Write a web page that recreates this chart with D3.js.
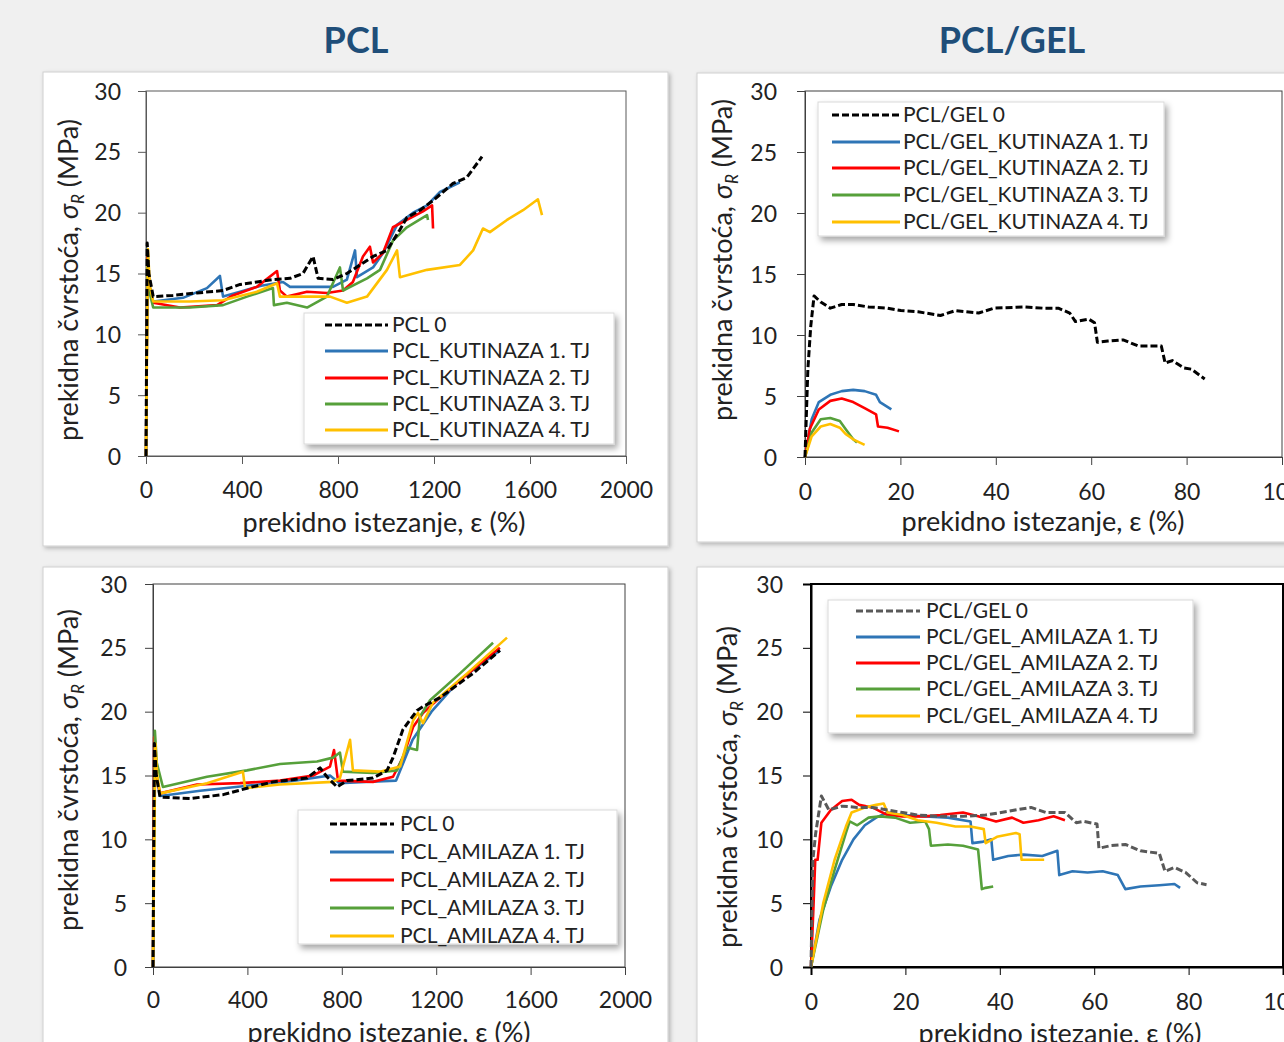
<!DOCTYPE html>
<html>
<head>
<meta charset="utf-8">
<script src="https://cdn.jsdelivr.net/npm/d3@7"></script>
<style>
  html, body { margin: 0; padding: 0; background: #f0f0f0; overflow: hidden; }
  svg { display: block; font-family: Lato, "Open Sans", sans-serif; }
</style>
</head>
<body>
<svg id="chart" width="1284" height="1042"></svg>
<script>
// series colours and legend names
var colors = ["#000000", "#2e75b6", "#ff0000", "#56a03a", "#ffc000"];
var namesKut = ["PCL 0", "PCL_KUTINAZA 1. TJ", "PCL_KUTINAZA 2. TJ", "PCL_KUTINAZA 3. TJ", "PCL_KUTINAZA 4. TJ"];
var namesAmi = ["PCL 0", "PCL_AMILAZA 1. TJ", "PCL_AMILAZA 2. TJ", "PCL_AMILAZA 3. TJ", "PCL_AMILAZA 4. TJ"];
var namesGelKut = ["PCL/GEL 0", "PCL/GEL_KUTINAZA 1. TJ", "PCL/GEL_KUTINAZA 2. TJ", "PCL/GEL_KUTINAZA 3. TJ", "PCL/GEL_KUTINAZA 4. TJ"];
var namesGelAmi = ["PCL/GEL 0", "PCL/GEL_AMILAZA 1. TJ", "PCL/GEL_AMILAZA 2. TJ", "PCL/GEL_AMILAZA 3. TJ", "PCL/GEL_AMILAZA 4. TJ"];

var ticksPcl = [0, 400, 800, 1200, 1600, 2000];
var ticksGel = [0, 20, 40, 60, 80, 100];
var ticksY = [0, 5, 10, 15, 20, 25, 30];

// PCL, kutinaza  [elongation %, strength MPa]
var pcl0 = [[0,0],[5,17.5],[12,15],[30,13.1],[112,13.2],[212,13.4],[321,13.6],[392,14.1],[462,14.3],[529,14.5],[600,14.6],[654,15.0],[696,16.4],[717,14.6],[779,14.5],[837,15.0],[946,16.4],[1004,16.9],[1058,18.6],[1087,19.6],[1142,20.2],[1196,21.0],[1279,22.4],[1337,22.9],[1400,24.6]];
var pclKut1 = [[0,0],[6,17],[14,14],[30,12.7],[154,13.0],[254,13.8],[308,14.8],[321,13.1],[392,13.5],[480,14.0],[571,14.3],[600,13.9],[725,13.9],[779,13.9],[837,14.5],[871,16.9],[879,14.7],[946,15.5],[988,16.7],[1046,19.0],[1113,20.0],[1171,20.6],[1225,21.7],[1308,22.5]];
var pclKut2 = [[0,0],[6,16.5],[14,14],[30,12.6],[142,12.2],[296,12.4],[362,13.2],[462,13.9],[546,15.2],[558,13.6],[587,13.1],[671,13.5],[754,13.4],[821,13.6],[862,14.3],[904,16.4],[933,17.2],[946,15.9],[988,16.7],[1029,18.8],[1087,19.4],[1154,20.1],[1192,20.6],[1196,18.7]];
var pclKut3 = [[0,0],[6,16],[14,13.5],[30,12.2],[183,12.2],[321,12.4],[421,13.1],[529,13.8],[533,12.4],[587,12.6],[671,12.2],[754,13.1],[808,15.5],[821,13.6],[921,14.6],[975,15.3],[1029,17.7],[1087,18.8],[1171,19.8],[1175,19.4]];
var pclKut4 = [[0,0],[8,17],[16,14],[30,12.7],[183,12.7],[321,12.8],[462,13.5],[546,14.2],[558,13.1],[671,13.1],[767,13.1],[837,12.6],[921,13.1],[1004,15.3],[1046,16.9],[1058,14.7],[1171,15.3],[1308,15.7],[1363,16.9],[1404,18.7],[1433,18.4],[1504,19.4],[1571,20.2],[1633,21.1],[1650,19.8]];

// PCL, amilaza
var pcl0b = [[0,0],[6,17.5],[14,15],[30,13.3],[157,13.2],[297,13.5],[398,14.0],[508,14.5],[653,14.8],[708,15.6],[737,14.9],[780,14.1],[822,14.6],[932,14.8],[992,15.4],[1017,16.4],[1059,18.6],[1119,20.1],[1144,20.4],[1216,21.1],[1356,23.0],[1470,24.8]];
var pclAmi1 = [[0,0],[6,17.5],[14,15],[30,13.4],[200,13.8],[400,14.2],[600,14.6],[750,15.0],[790,14.4],[900,14.5],[1030,14.6],[1100,17.8],[1180,20.0],[1300,22.5],[1470,24.8]];
var pclAmi2 = [[0,0],[5,18],[14,15],[30,13.6],[186,14.3],[369,14.4],[538,14.6],[678,15.0],[750,15.7],[767,17.0],[784,14.6],[932,14.5],[1017,14.9],[1059,16.4],[1102,18.8],[1144,19.9],[1216,21.1],[1356,23.3],[1470,25.0]];
var pclAmi3 = [[0,0],[8,18.5],[16,16],[42,14.1],[229,14.9],[398,15.4],[538,15.9],[695,16.1],[763,16.4],[792,16.8],[805,15.3],[932,15.2],[1034,15.4],[1076,17.2],[1119,17.0],[1131,19.6],[1174,20.9],[1301,23.0],[1441,25.4]];
var pclAmi4 = [[0,0],[10,17.5],[18,15],[30,13.6],[229,14.4],[381,15.3],[390,14.0],[538,14.3],[763,14.5],[792,14.8],[835,17.8],[847,15.4],[962,15.3],[1047,15.7],[1102,19.3],[1123,19.9],[1144,19.1],[1186,20.7],[1331,23.0],[1500,25.8]];

// PCL/GEL, kutinaza
var gel0 = [[0,0],[0.6,7.2],[1.2,10.7],[1.9,13.2],[3.3,12.7],[5.3,12.2],[7.7,12.5],[10.1,12.5],[13.3,12.3],[17.3,12.2],[20.1,12.0],[23.7,11.9],[28.4,11.6],[31.6,12.0],[36.4,11.8],[39.6,12.2],[45.9,12.3],[49.9,12.2],[53.1,12.2],[55.5,11.8],[56.7,11.1],[59.5,11.3],[60.7,11.0],[61.3,9.4],[63.5,9.5],[66.7,9.6],[69.9,9.1],[74.7,9.1],[75.5,7.7],[77.0,7.9],[79.4,7.3],[81.0,7.2],[83.8,6.4]];
var gelKut1 = [[0,0],[1.4,3.1],[2.9,4.5],[5.3,5.1],[7.7,5.4],[10.1,5.5],[12.5,5.4],[14.9,5.1],[15.7,4.5],[18.1,3.9]];
var gelKut2 = [[0,0],[1.0,2.3],[2.9,3.9],[5.3,4.6],[7.7,4.8],[10.1,4.5],[12.5,4.0],[14.9,3.5],[15.3,2.5],[17.3,2.4],[19.7,2.1]];
var gelKut3 = [[0,0],[1.4,2.0],[3.3,3.1],[5.3,3.2],[7.3,2.95],[8.5,2.3],[10.1,1.45],[10.9,1.2]];
var gelKut4 = [[0,0],[1.4,1.7],[3.3,2.5],[5.3,2.7],[7.3,2.4],[8.5,1.9],[10.1,1.45],[12.5,1.0]];

// PCL/GEL, amilaza
var gel0b = [[0,0],[0.4,8.4],[1.0,10.5],[2.2,13.4],[3.8,12.3],[6.6,12.6],[9.8,12.5],[13.0,12.5],[16.2,12.3],[19.4,12.1],[22.6,11.9],[27.4,11.8],[32.2,11.8],[37.0,11.9],[41.8,12.2],[46.6,12.5],[49.8,12.1],[53.8,12.1],[56.2,11.3],[57.8,11.4],[60.6,11.2],[61.0,9.3],[63.4,9.5],[66.6,9.6],[69.8,9.1],[73.8,8.9],[75.0,7.5],[77.0,7.8],[79.4,7.4],[81.8,6.6],[83.8,6.45]];
var gelAmi1 = [[0,0],[1.8,3.7],[4.2,6.3],[6.6,8.4],[9.0,10.0],[11.4,11.1],[13.8,11.7],[16.2,12.1],[19.4,11.9],[24.2,11.8],[29.0,11.7],[33.8,11.4],[34.2,9.7],[36.2,9.8],[38.2,10.0],[38.6,8.4],[41.8,8.7],[45.0,8.8],[49.0,8.7],[52.2,9.1],[52.6,7.2],[55.4,7.5],[58.6,7.4],[61.8,7.5],[65.0,7.2],[66.6,6.1],[69.8,6.3],[73.8,6.4],[77.0,6.5],[78.2,6.2]];
var gelAmi2 = [[0,0],[0.5,4.5],[0.9,8.4],[1.4,8.4],[2.2,11.3],[4.2,12.3],[6.6,13.0],[8.6,13.1],[10.2,12.7],[13.0,12.5],[16.2,11.9],[19.4,11.8],[24.2,11.8],[27.4,11.9],[32.2,12.1],[35.4,11.8],[39.2,11.4],[42.6,11.7],[45.0,11.3],[48.2,11.5],[51.4,11.8],[53.8,11.5]];
var gelAmi3 = [[0,0],[2.6,4.5],[5.0,7.6],[7.4,10.5],[8.2,11.4],[9.8,11.1],[12.2,11.7],[14.6,11.8],[17.8,11.7],[21.0,11.3],[24.2,11.4],[25.0,10.8],[25.4,9.5],[29.0,9.6],[32.2,9.5],[35.4,9.2],[36.2,6.1],[37.0,6.2],[38.6,6.3]];
var gelAmi4 = [[0,0],[2.6,5.0],[5.0,8.4],[7.4,11.0],[8.6,12.1],[11.4,12.5],[13.8,12.7],[15.4,12.8],[16.2,12.1],[19.4,11.9],[22.6,11.5],[26.6,11.3],[30.6,11.0],[33.8,11.0],[36.6,10.8],[37.0,9.7],[39.4,10.2],[43.4,10.5],[44.2,10.4],[44.6,8.4],[46.6,8.4],[49.4,8.4]];

var svg = d3.select("#chart");

// shadow filters
var defs = svg.append("defs");
defs.append("filter").attr("id", "boxShadow")
  .attr("x", "-5%").attr("y", "-5%").attr("width", "110%").attr("height", "110%")
  .append("feDropShadow").attr("dx", 2).attr("dy", 2).attr("stdDeviation", 2)
  .attr("flood-color", "#000").attr("flood-opacity", 0.25);
defs.append("filter").attr("id", "legShadow")
  .attr("x", "-10%").attr("y", "-10%").attr("width", "120%").attr("height", "130%")
  .append("feDropShadow").attr("dx", 3).attr("dy", 4).attr("stdDeviation", 3)
  .attr("flood-color", "#000").attr("flood-opacity", 0.35);

// titles
svg.append("text").attr("x", 356).attr("y", 53).attr("text-anchor", "middle")
  .attr("font-size", 36).attr("font-weight", "bold").attr("fill", "#1f4e79").text("PCL");
svg.append("text").attr("x", 1012).attr("y", 53).attr("text-anchor", "middle")
  .attr("font-size", 36).attr("font-weight", "bold").attr("fill", "#1f4e79").text("PCL/GEL");

var panels = [
  { box: [43, 72, 625, 474], xr: [146, 626], yr: [456, 91], xmax: 2000, xticks: ticksPcl,
    series: [pcl0, pclKut1, pclKut2, pclKut3, pclKut4], names: namesKut, colors: colors,
    labX: 121, tickLabY: 498, titleX: 384, titleY: 532, yTitleX: 78, yTitleY: 280,
    leg: [304, 313, 310, 131], legRows: [325, 351, 378, 404, 430], legLine: [325, 388], legText: 392,
    frame: "#595959", frameW: 1 },
  { box: [697, 73, 620, 469], xr: [805, 1282], yr: [457, 91], xmax: 100, xticks: ticksGel,
    series: [gel0, gelKut1, gelKut2, gelKut3, gelKut4], names: namesGelKut, colors: colors,
    labX: 777, tickLabY: 500, titleX: 1043, titleY: 531, yTitleX: 732, yTitleY: 260,
    leg: [818, 102, 346, 134], legRows: [115, 142, 168, 195, 222], legLine: [832, 900], legText: 903,
    frame: "#404040", frameW: 1 },
  { box: [43, 567, 625, 490], xr: [153, 625], yr: [967, 584], xmax: 2000, xticks: ticksPcl,
    series: [pcl0b, pclAmi1, pclAmi2, pclAmi3, pclAmi4], names: namesAmi, colors: colors,
    labX: 127, tickLabY: 1008, titleX: 389, titleY: 1042, yTitleX: 78, yTitleY: 770,
    leg: [298, 810, 319, 134], legRows: [824, 852, 880, 908, 936], legLine: [330, 394], legText: 400,
    frame: "#404040", frameW: 1 },
  { box: [697, 567, 620, 490], xr: [811, 1283], yr: [967, 584], xmax: 100, xticks: ticksGel,
    series: [gel0b, gelAmi1, gelAmi2, gelAmi3, gelAmi4], names: namesGelAmi,
    colors: ["#595959", "#2e75b6", "#ff0000", "#56a03a", "#ffc000"],
    labX: 783, tickLabY: 1010, titleX: 1060, titleY: 1043, yTitleX: 737, yTitleY: 787,
    leg: [828, 600, 365, 133], legRows: [611, 637, 663, 689, 716], legLine: [856, 920], legText: 926,
    frame: "#000000", frameW: 2 }
];

panels.forEach(function(p) {
  var g = svg.append("g");

  // panel card
  g.append("rect").attr("x", p.box[0]).attr("y", p.box[1])
    .attr("width", p.box[2]).attr("height", p.box[3])
    .attr("fill", "#fff").attr("stroke", "#cfcfcf").attr("filter", "url(#boxShadow)");

  var x = d3.scaleLinear().domain([0, p.xmax]).range(p.xr);
  var y = d3.scaleLinear().domain([0, 30]).range(p.yr);

  // plot frame
  g.append("rect").attr("x", p.xr[0]).attr("y", p.yr[1])
    .attr("width", p.xr[1] - p.xr[0]).attr("height", p.yr[0] - p.yr[1])
    .attr("fill", "none").attr("stroke", p.frame).attr("stroke-width", p.frameW);

  // axes
  var ya = g.append("g").attr("transform", "translate(" + p.xr[0] + ",0)")
    .call(d3.axisLeft(y).tickValues(ticksY).tickSize(8).tickPadding(p.xr[0] - p.labX - 8));
  var xa = g.append("g").attr("transform", "translate(0," + p.yr[0] + ")")
    .call(d3.axisBottom(x).tickValues(p.xticks).tickSize(8).tickFormat(d3.format("d")));
  [ya, xa].forEach(function(a) {
    a.select(".domain").attr("stroke", p.frame).attr("stroke-width", p.frameW);
    a.selectAll(".tick line").attr("stroke", p.frame);
    a.selectAll(".tick text").attr("font-size", 23).attr("fill", "#222")
      .attr("font-family", "Lato, 'Open Sans', sans-serif");
  });
  xa.selectAll(".tick text").attr("dy", null).attr("y", p.tickLabY - p.yr[0]);
  ya.selectAll(".tick text").attr("dy", "0.35em");

  // axis titles
  g.append("text").attr("x", p.titleX).attr("y", p.titleY).attr("text-anchor", "middle")
    .attr("font-size", 27).attr("fill", "#222").text("prekidno istezanje, ε (%)");
  var yt = g.append("text").attr("text-anchor", "middle").attr("font-size", 27).attr("fill", "#222")
    .attr("transform", "translate(" + p.yTitleX + "," + p.yTitleY + ") rotate(-90)");
  yt.append("tspan").text("prekidna čvrstoća, ");
  yt.append("tspan").attr("font-style", "italic").text("σ");
  yt.append("tspan").attr("font-style", "italic").attr("font-size", 17).attr("dy", 6).text("R");
  yt.append("tspan").attr("dy", -6).text(" (MPa)");

  // curves
  var line = d3.line().x(function(d) { return x(d[0]); }).y(function(d) { return y(d[1]); });
  var order = [1, 2, 3, 4, 0];
  order.forEach(function(i) {
    g.append("path").datum(p.series[i]).attr("d", line)
      .attr("fill", "none").attr("stroke", p.colors[i])
      .attr("stroke-width", i === 0 ? 3 : 2.6)
      .attr("stroke-linejoin", "round")
      .attr("stroke-dasharray", i === 0 ? "7,3" : null);
  });

  // legend
  var lg = g.append("g");
  lg.append("rect").attr("x", p.leg[0]).attr("y", p.leg[1]).attr("width", p.leg[2]).attr("height", p.leg[3])
    .attr("fill", "#fff").attr("stroke", "#d9d9d9").attr("filter", "url(#legShadow)");
  p.names.forEach(function(n, i) {
    lg.append("line").attr("x1", p.legLine[0]).attr("x2", p.legLine[1])
      .attr("y1", p.legRows[i]).attr("y2", p.legRows[i])
      .attr("stroke", p.colors[i]).attr("stroke-width", 3)
      .attr("stroke-dasharray", i === 0 ? "7,3" : null);
    lg.append("text").attr("x", p.legText).attr("y", p.legRows[i]).attr("dy", "0.35em")
      .attr("font-size", 21).attr("fill", "#222").text(n);
  });
});
</script>
</body>
</html>
